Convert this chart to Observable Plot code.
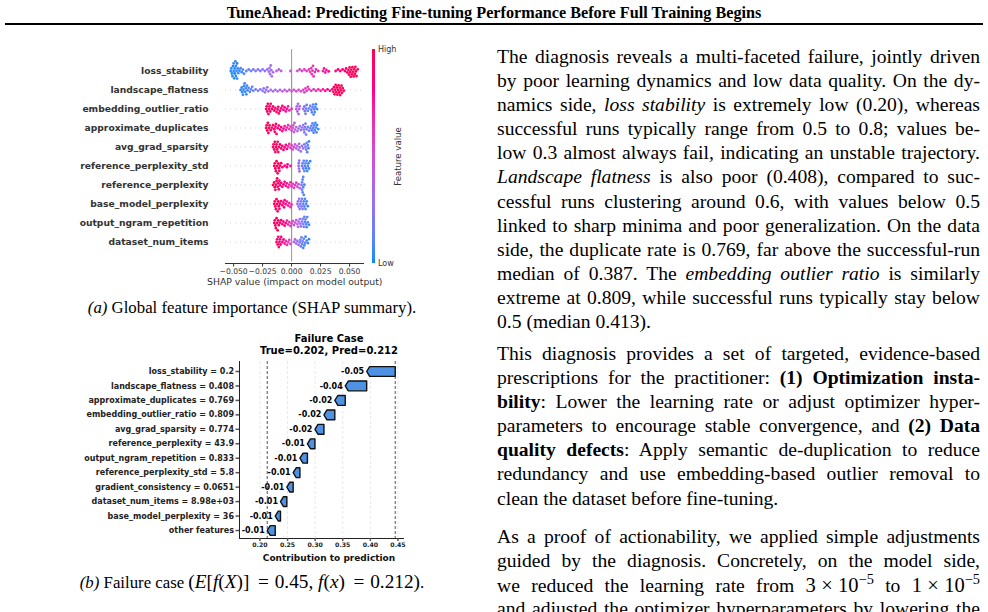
<!DOCTYPE html>
<html><head><meta charset="utf-8">
<script src="https://cdn.jsdelivr.net/npm/d3@7"></script>
<script src="https://cdn.jsdelivr.net/npm/@observablehq/plot@0.6"></script>
<style>
html,body{margin:0;padding:0}
body{width:988px;height:612px;overflow:hidden;background:#fff;position:relative;font-family:"Liberation Serif","Times New Roman",serif;color:#000}
.abs{position:absolute}
#hdr{top:4px;left:0;width:988px;text-align:center;font-weight:bold;font-size:16.2px;line-height:18px;white-space:nowrap}
#rule{top:23px;left:5px;width:978px;height:2px;background:#000}
.par{left:497px;width:483px;font-size:19.6px;line-height:24.1px}
.par div{white-space:nowrap;height:24.1px}
.cap{left:12px;width:480px;text-align:center;font-size:16.8px;line-height:20px;white-space:nowrap}
.math{font-size:19.3px}
.m2{font-size:20.5px}
.sp{margin:0 0.26em}
.eq{margin:0 0.3em 0 0.45em}
.sans{font-family:"DejaVu Sans",sans-serif;white-space:nowrap}
sup{font-size:70%;line-height:0;vertical-align:0.55em}
</style></head>
<body>
<div id="hdr" class="abs">TuneAhead: Predicting Fine-tuning Performance Before Full Training Begins</div>
<div id="rule" class="abs"></div>

<div id="chartA" class="abs" style="left:0;top:30px"></div>
<div id="axisA" class="abs" style="left:0;top:262px"></div>
<div id="barA" class="abs" style="left:360px;top:40px"></div>
<div class="abs sans" style="left:207px;width:175px;top:276px;font-size:9.3px;text-align:center;color:#333">SHAP value (impact on model output)</div>
<div class="abs cap" style="top:298px"><i>(a)</i> Global feature importance (SHAP summary).</div>

<div class="abs sans" style="left:229px;width:200px;top:333px;font-size:10px;font-weight:bold;text-align:center;line-height:11.5px">Failure Case<br>True=0.202, Pred=0.212</div>
<div id="chartB" class="abs" style="left:0;top:325px"></div>
<div class="abs sans" style="left:229px;width:200px;top:553px;font-size:9px;font-weight:bold;text-align:center;color:#111">Contribution to prediction</div>
<div class="abs cap" style="top:572px"><i>(b)</i> Failure case <span class="math">(<i>E</i>[<i>f</i>(<i>X</i>)]<span class="eq">=</span>0.45, <i>f</i>(<i>x</i>)<span class="eq">=</span>0.212)</span>.</div>

<div class="abs par" style="top:45px">
<div>The diagnosis reveals a multi-faceted failure, jointly driven</div>
<div>by poor learning dynamics and low data quality. On the dy-</div>
<div>namics side, <i>loss stability</i> is extremely low (0.20), whereas</div>
<div>successful runs typically range from 0.5 to 0.8; values be-</div>
<div>low 0.3 almost always fail, indicating an unstable trajectory.</div>
<div><i>Landscape flatness</i> is also poor (0.408), compared to suc-</div>
<div>cessful runs clustering around 0.6, with values below 0.5</div>
<div>linked to sharp minima and poor generalization. On the data</div>
<div>side, the duplicate rate is 0.769, far above the successful-run</div>
<div>median of 0.387. The <i>embedding outlier ratio</i> is similarly</div>
<div>extreme at 0.809, while successful runs typically stay below</div>
<div class="last">0.5 (median 0.413).</div>
</div>
<div class="abs par" style="top:342px">
<div>This diagnosis provides a set of targeted, evidence-based</div>
<div>prescriptions for the practitioner: <b>(1) Optimization insta-</b></div>
<div><b>bility</b>: Lower the learning rate or adjust optimizer hyper-</div>
<div>parameters to encourage stable convergence, and <b>(2) Data</b></div>
<div><b>quality defects</b>: Apply semantic de-duplication to reduce</div>
<div>redundancy and use embedding-based outlier removal to</div>
<div class="last">clean the dataset before fine-tuning.</div>
</div>
<div class="abs par" style="top:525px">
<div>As a proof of actionability, we applied simple adjustments</div>
<div>guided by the diagnosis. Concretely, on the model side,</div>
<div>we reduced the learning rate from <span class="m2">3<span class="sp">×</span>10<sup>−5</sup></span> to <span class="m2">1<span class="sp">×</span>10<sup>−5</sup></span></div>
<div>and adjusted the optimizer hyperparameters by lowering the</div>
</div>

<script>
// ---------- (a) SHAP summary data: [shap value, normalized feature value] ----------
const features = ["loss_stability","landscape_flatness","embedding_outlier_ratio","approximate_duplicates","avg_grad_sparsity","reference_perplexity_std","reference_perplexity","base_model_perplexity","output_ngram_repetition","dataset_num_items"];

const loss_stability = [[-.0525,.03],[-.052,.05],[-.0515,.02],[-.051,.04],[-.0505,.01],[-.050,.03],[-.050,.06],[-.0495,.02],[-.049,.04],[-.049,0],[-.0485,.05],[-.048,.03],[-.048,.02],[-.0475,.06],[-.047,.04],[-.047,.01],[-.0465,.05],[-.046,.07],[-.045,.03],[-.044,.08],[-.043,.06],[-.042,.1],[-.041,.08],[-.039,.12],[-.037,.15],[-.035,.14],[-.033,.18],[-.031,.2],[-.029,.22],[-.027,.2],[-.025,.25],[-.023,.27],[-.021,.28],[-.0195,.3],[-.019,.28],[-.0185,.32],[-.018,.3],[-.0175,.33],[-.017,.31],[-.016,.35],[-.013,.38],[-.011,.4],[-.009,.42],[-.001,.45],[.005,.52],[.007,.55],[.009,.54],[.011,.58],[.013,.6],[.015,.6],[.016,.62],[.017,.64],[.0175,.62],[.018,.66],[.0185,.63],[.019,.65],[.020,.68],[.021,.66],[.023,.7],[.027,.72],[.028,.74],[.029,.73],[.030,.75],[.032,.78],[.038,.85],[.040,.86],[.042,.88],[.044,.87],[.046,.9],[.047,.9],[.048,.92],[.049,.93],[.0495,.95],[.050,.96],[.0505,.97],[.051,.98],[.0515,.96],[.052,.99],[.0525,.97],[.053,1],[.0535,.98],[.054,1],[.0545,.99],[.055,1],[.0555,.98],[.056,.97],[.057,.99]];
const landscape_flatness = [[-.044,.02],[-.043,.04],[-.0425,.03],[-.042,.05],[-.0415,.02],[-.041,.06],[-.0405,.04],[-.040,.03],[-.0395,.07],[-.039,.05],[-.0385,.08],[-.038,.06],[-.037,.1],[-.036,.08],[-.035,.12],[-.034,.1],[-.033,.14],[-.031,.16],[-.029,.2],[-.027,.22],[-.025,.24],[-.024,.26],[-.023,.25],[-.022,.28],[-.021,.27],[-.020,.3],[-.018,.31],[-.016,.33],[-.014,.35],[-.012,.36],[-.010,.38],[-.008,.4],[-.006,.42],[-.004,.44],[-.002,.46],[0,.48],[.002,.5],[.004,.5],[.006,.52],[.008,.54],[.010,.56],[.011,.57],[.012,.58],[.013,.6],[.014,.58],[.015,.6],[.017,.62],[.019,.64],[.021,.66],[.023,.68],[.025,.7],[.027,.74],[.029,.78],[.031,.8],[.033,.84],[.035,.88],[.036,.9],[.0365,.92],[.037,.93],[.0375,.95],[.038,.94],[.0385,.96],[.039,.97],[.0395,.98],[.040,.99],[.0405,1],[.041,.98],[.0415,.99],[.042,1],[.0425,.97],[.043,.98],[.0435,.96],[.044,.95],[.045,.94]];
const embedding_outlier_ratio = [[-.022,.97],[-.0215,.95],[-.021,.98],[-.0205,.96],[-.020,.99],[-.0195,.94],[-.019,.97],[-.0185,.93],[-.018,.95],[-.017,.92],[-.016,.9],[-.015,.93],[-.014,.9],[-.013,.88],[-.012,.91],[-.0115,.89],[-.011,.9],[-.010,.87],[-.009,.86],[-.008,.85],[-.007,.83],[-.006,.8],[-.005,.78],[-.004,.76],[-.003,.72],[-.002,.7],[0,.65],[.004,.4],[.0045,.38],[.005,.35],[.0055,.37],[.006,.33],[.0065,.36],[.007,.34],[.010,.25],[.011,.22],[.0115,.2],[.012,.18],[.0125,.2],[.013,.17],[.014,.15],[.015,.18],[.016,.14],[.017,.12],[.0175,.1],[.018,.12],[.0185,.09],[.019,.1],[.0195,.08],[.020,.07],[.0205,.1],[.021,.06],[.022,.05]];
const approximate_duplicates = [[-.022,.98],[-.0215,.96],[-.021,.99],[-.0205,.97],[-.020,.95],[-.0195,.98],[-.019,.94],[-.018,.93],[-.017,.92],[-.016,.94],[-.015,.9],[-.0145,.91],[-.014,.92],[-.0135,.9],[-.013,.89],[-.012,.88],[-.011,.87],[-.010,.86],[-.009,.84],[-.008,.83],[-.007,.78],[-.006,.75],[-.005,.72],[-.004,.7],[-.003,.66],[-.002,.62],[-.001,.6],[0,.55],[.001,.5],[.0015,.48],[.002,.45],[.0025,.47],[.003,.42],[.004,.38],[.005,.35],[.006,.32],[.007,.3],[.008,.28],[.009,.26],[.010,.24],[.0105,.22],[.011,.2],[.0115,.21],[.012,.18],[.0125,.2],[.013,.17],[.014,.15],[.015,.16],[.016,.14],[.017,.12],[.0175,.13],[.018,.1],[.0185,.11],[.019,.09],[.0195,.1],[.020,.08],[.0205,.07],[.021,.06],[.0215,.08],[.022,.05],[.023,.04]];
const avg_grad_sparsity = [[-.016,.97],[-.0155,.95],[-.015,.98],[-.0145,.96],[-.014,.94],[-.0135,.97],[-.013,.93],[-.0125,.95],[-.012,.92],[-.0115,.94],[-.011,.9],[-.010,.91],[-.009,.89],[-.008,.88],[-.007,.86],[-.006,.85],[-.005,.82],[-.004,.8],[-.003,.72],[-.002,.66],[-.001,.6],[0,.56],[.001,.52],[.002,.5],[.003,.46],[.004,.42],[.005,.38],[.006,.35],[.0065,.34],[.007,.32],[.008,.3],[.009,.28],[.010,.25],[.011,.22],[.012,.2],[.0125,.18],[.013,.15],[.0135,.12],[.014,.1],[.0145,.08],[.015,.06]];
const reference_perplexity_std = [[-.015,.98],[-.0145,.96],[-.014,.99],[-.0135,.97],[-.013,.95],[-.0125,.98],[-.012,.96],[-.0115,.94],[-.011,.97],[-.0105,.93],[-.010,.95],[-.009,.92],[-.008,.9],[-.006,.85],[-.004,.82],[-.0035,.8],[-.001,.76],[.006,.3],[.0062,.28],[.0064,.32],[.0066,.27],[.0068,.3],[.009,.15],[.0095,.12],[.010,.14],[.0105,.1],[.011,.12],[.0115,.08],[.012,.1],[.0125,.06],[.013,.09],[.0135,.05],[.014,.07],[.0145,.04],[.015,.06],[.016,.03]];
const reference_perplexity = [[-.016,.95],[-.015,.97],[-.0145,.94],[-.014,.98],[-.0135,.96],[-.013,.93],[-.0125,.97],[-.012,.95],[-.0115,.92],[-.011,.94],[-.0105,.9],[-.010,.92],[-.009,.88],[-.008,.86],[-.007,.84],[-.006,.8],[-.005,.78],[-.004,.76],[-.003,.74],[-.002,.7],[-.001,.68],[0,.66],[.001,.62],[.002,.6],[.003,.58],[.004,.55],[.005,.5],[.006,.45],[.007,.4],[.0085,.2],[.009,.15],[.009,.12],[.0095,.1],[.0095,.14],[.010,.08],[.010,.11],[.0105,.09],[.011,.06]];
const base_model_perplexity = [[-.015,.93],[-.0145,.95],[-.014,.97],[-.0135,.92],[-.013,.96],[-.0125,.94],[-.012,.98],[-.0115,.93],[-.011,.95],[-.0105,.9],[-.010,.92],[-.009,.88],[-.008,.87],[-.007,.85],[-.0065,.8],[-.006,.82],[-.005,.78],[-.004,.76],[-.003,.75],[-.002,.72],[-.001,.7],[0,.68],[.005,.3],[.0055,.28],[.006,.25],[.0065,.27],[.007,.22],[.0075,.24],[.008,.2],[.0085,.18],[.009,.16],[.0095,.2],[.010,.14],[.0105,.12],[.011,.1],[.0115,.12],[.012,.08],[.0125,.1],[.013,.06],[.014,.05]];
const output_ngram_repetition = [[-.015,.95],[-.0145,.97],[-.014,.93],[-.0135,.96],[-.013,.94],[-.0125,.92],[-.012,.95],[-.0115,.9],[-.011,.93],[-.010,.88],[-.009,.9],[-.008,.86],[-.007,.85],[-.006,.82],[-.005,.8],[-.004,.72],[-.003,.68],[-.002,.65],[-.001,.62],[0,.58],[.001,.55],[.002,.52],[.003,.5],[.004,.45],[.005,.4],[.0055,.35],[.006,.32],[.007,.3],[.0075,.28],[.008,.25],[.009,.22],[.0095,.2],[.010,.18],[.0105,.2],[.011,.15],[.0115,.12],[.012,.14],[.0125,.1],[.013,.08],[.0135,.1],[.014,.06],[.015,.05]];
const dataset_num_items = [[-.013,.9],[-.0125,.88],[-.012,.92],[-.0115,.86],[-.011,.9],[-.0105,.87],[-.010,.85],[-.0095,.88],[-.009,.84],[-.008,.82],[-.007,.8],[-.006,.72],[-.005,.68],[-.004,.65],[-.003,.6],[-.002,.58],[-.001,.55],[.002,.4],[.003,.35],[.004,.3],[.005,.28],[.006,.25],[.007,.22],[.0075,.2],[.008,.18],[.0085,.15],[.009,.12],[.0095,.14],[.010,.1],[.0105,.12],[.011,.08],[.0115,.1],[.012,.06],[.013,.08],[.014,.05],[.015,.04]];

const shapTicks = [-0.05, -0.025, 0, 0.025, 0.05];

// ---------- (b) waterfall data ----------
const wfLabels = ["loss_stability = 0.2","landscape_flatness = 0.408","approximate_duplicates = 0.769","embedding_outlier_ratio = 0.809","avg_grad_sparsity = 0.774","reference_perplexity = 43.9","output_ngram_repetition = 0.833","reference_perplexity_std = 5.8","gradient_consistency = 0.0651","dataset_num_items = 8.98e+03","base_model_perplexity = 36","other features"];
const wfValues = [-0.0517,-0.0388,-0.0189,-0.0197,-0.0163,-0.0136,-0.0136,-0.0122,-0.0115,-0.0115,-0.0095,-0.0145];
const expectedValue = 0.445;
const wfTicks = [0.20, 0.25, 0.30, 0.35, 0.40, 0.45];

// ---------- build (a) ----------
const rows = [loss_stability, landscape_flatness, embedding_outlier_ratio, approximate_duplicates, avg_grad_sparsity, reference_perplexity_std, reference_perplexity, base_model_perplexity, output_ngram_repetition, dataset_num_items];
const table = features.flatMap((f, k) => rows[k].map(([s, v]) => ({feature: f, shap: s, value: v})));
const colorOpts = {type: "linear", domain: [0, 1], range: ["#008bfb", "#ff0052"], interpolate: "hcl"};
const xA = {domain: [-0.057, 0.062], label: null};

const plotA = Plot.plot({
  width: 400, height: 234,
  marginLeft: 225, marginRight: 37, marginTop: 29.33, marginBottom: 11.33,
  style: {fontFamily: "DejaVu Sans", fontSize: "9.2px", fontWeight: "bold", color: "#333", background: "none", overflow: "visible"},
  facet: {data: table, y: "feature"},
  fy: {domain: features, padding: 0, axis: "left", label: null, tickSize: 0, tickPadding: 17},
  x: {...xA, axis: null},
  color: colorOpts,
  marks: [
    Plot.ruleY([0], {y: null, stroke: "#c8c8c8", strokeWidth: 0.8, strokeDasharray: "1,4"}),
    Plot.ruleX([0], {stroke: "#999", strokeWidth: 1, insetTop: -12, insetBottom: -10.33}),
    Plot.dot(table, Plot.dodgeY({anchor: "middle", padding: 0}, {x: "shap", r: 1.38, fill: "value", stroke: null}))
  ]
});
document.getElementById("chartA").append(plotA);

const axisA = Plot.plot({
  width: 400, height: 31, marginLeft: 225, marginRight: 37, marginTop: 1, marginBottom: 30,
  style: {fontFamily: "DejaVu Sans", fontSize: "7.6px", color: "#333", background: "none", overflow: "visible"},
  x: {...xA, ticks: shapTicks, tickFormat: d3.format(".3f"), tickSize: 3.5, tickPadding: 2, line: true},
  marks: [Plot.tickX(shapTicks, {x: d => d, stroke: "none"})]
});
document.getElementById("axisA").append(axisA);

// colour bar
const ramp = d3.range(0, 1, 0.01);
const barA = Plot.plot({
  width: 60, height: 240, marginLeft: 12, marginRight: 45, marginTop: 9, marginBottom: 17,
  style: {fontFamily: "DejaVu Sans", fontSize: "8px", color: "#333", background: "none", overflow: "visible"},
  x: {domain: [0, 1], axis: null}, y: {domain: [0, 1], axis: null},
  color: colorOpts,
  marks: [
    Plot.rect(ramp, {x1: 0, x2: 1, y1: d => d, y2: d => d + 0.0105, fill: d => d, shapeRendering: "crispEdges"}),
    Plot.text([{t: "High", v: 1}, {t: "Low", v: 0}], {x: 1, y: "v", text: "t", textAnchor: "start", dx: 2.5, fill: "#333"}),
    Plot.text(["Feature value"], {x: 1, y: 0.5, text: d => d, rotate: -90, dx: 23, fontSize: 8.6, fill: "#333"})
  ]
});
document.getElementById("barA").append(barA);

// ---------- build (b) ----------
let cum = expectedValue;
const bars = wfValues.map((v, i) => { const s = cum; cum += v; return {i, v, start: s, end: cum, label: wfLabels[i]}; });
const finalValue = cum;
const headLen = 0.0055, half = 0.34;
const poly = bars.flatMap(b => {
  const dir = Math.sign(b.v), neck = b.end - dir * headLen;
  return [[b.start, b.i - half], [neck, b.i - half], [b.end, b.i], [neck, b.i + half], [b.start, b.i + half]]
    .map(([x, y]) => ({i: b.i, x, y}));
});

const plotB = Plot.plot({
  width: 420, height: 245, marginLeft: 239, marginRight: 17, marginTop: 36, marginBottom: 32,
  style: {fontFamily: "DejaVu Sans", fontSize: "8px", fontWeight: "bold", color: "#222", background: "none", overflow: "visible"},
  x: {domain: [0.163, 0.46], ticks: wfTicks, tickFormat: d3.format(".2f"), tickSize: 3, tickPadding: 1.5, label: null, line: true},
  y: {domain: [-0.692, 11.553], reverse: true, ticks: wfLabels.map((d, i) => i), tickFormat: i => wfLabels[i], tickSize: 3.5, tickPadding: 2, label: null, line: true},
  marks: [
    Plot.ruleX(wfTicks, {stroke: "#e2e2e2", strokeWidth: 0.8, strokeDasharray: "3,2"}),
    Plot.ruleX([expectedValue, finalValue], {stroke: "#555", strokeWidth: 1, strokeDasharray: "3,2"}),
    Plot.line(poly, {x: "x", y: "y", z: "i", curve: "linear-closed", fill: "#4f92e3", stroke: "#111", strokeWidth: 1.4}),
    Plot.text(bars, {x: "end", y: "i", text: d => d.v.toFixed(2), textAnchor: "end", dx: -2.5, fontSize: 8, fontWeight: "bold", fill: "#000"})
  ]
});
document.getElementById("chartB").append(plotB);
d3.select(plotB).selectAll('[aria-label^="x-axis"] text').style("font-size", "6.2px");
d3.select(plotB).selectAll('[aria-label^="x-axis"] path, [aria-label^="y-axis"] path').style("stroke", "#555").style("stroke-width", "1.5");

// ---------- justify body text lines ----------
document.querySelectorAll(".par > div").forEach(el => {
  if (el.classList.contains("last")) return;
  const r = document.createRange(); r.selectNodeContents(el);
  const w = r.getBoundingClientRect().width;
  const n = (el.textContent.match(/ /g) || []).length;
  if (n > 0) el.style.wordSpacing = ((483 - w) / n) + "px";
});
</script>
</body></html>
